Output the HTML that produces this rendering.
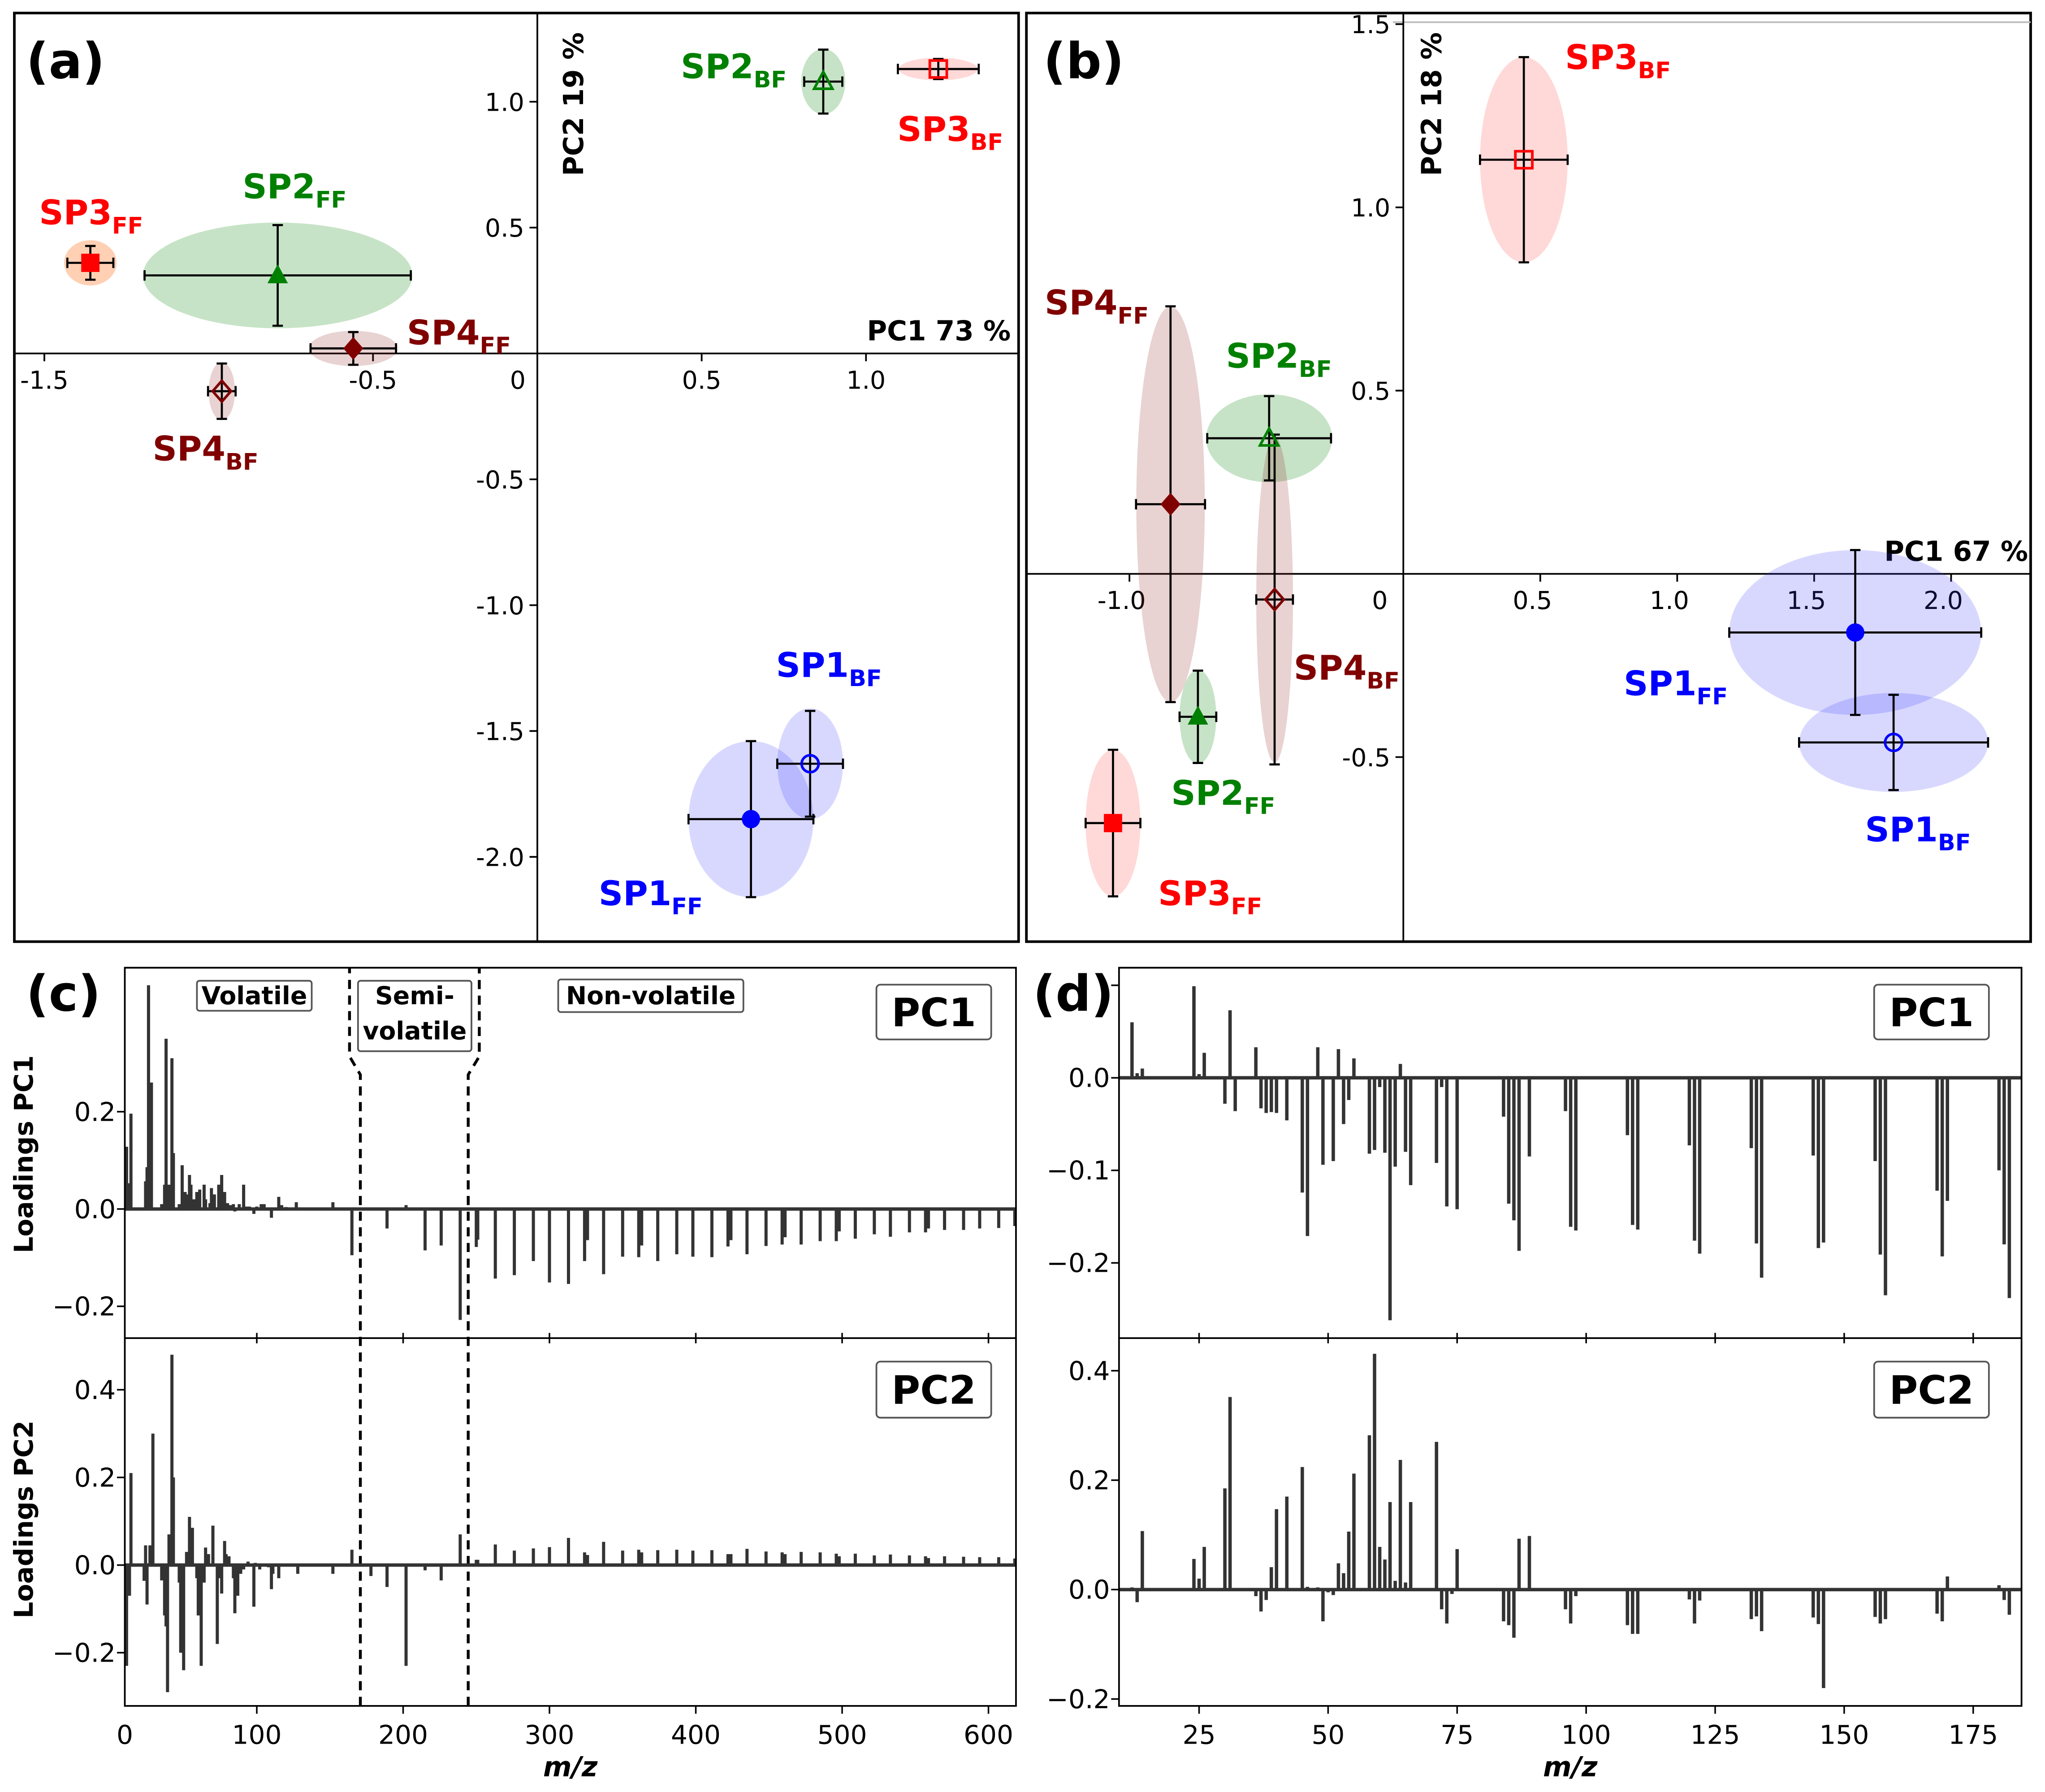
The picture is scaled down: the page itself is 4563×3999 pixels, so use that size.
<!DOCTYPE html>
<html><head><meta charset="utf-8"><style>
html,body{margin:0;padding:0;background:#fff;}
svg{display:block;}
text{font-family:"DejaVu Sans","Liberation Sans",sans-serif;}
</style></head><body>
<svg id="fig" xmlns="http://www.w3.org/2000/svg" width="4563" height="3999" viewBox="0 0 1568 1374" preserveAspectRatio="none"></svg>
<script>
// ---------- Data: panel (a) scores ----------
const aNames = ['SP2_BF','SP3_BF','SP3_FF','SP2_FF','SP4_FF','SP4_BF','SP1_BF','SP1_FF'];
const aX = [0.87, 1.22, -1.36, -0.79, -0.56, -0.96, 0.83, 0.65];
const aY = [1.08, 1.13, 0.36, 0.31, 0.02, -0.15, -1.63, -1.85];
const aXerr = [0.058, 0.123, 0.07, 0.405, 0.13, 0.042, 0.10, 0.19];
const aYerr = [0.127, 0.04, 0.067, 0.2, 0.065, 0.11, 0.21, 0.31];
const aEllX = [0.067, 0.12, 0.08, 0.41, 0.135, 0.04, 0.10, 0.19];
const aEllY = [0.13, 0.045, 0.09, 0.21, 0.07, 0.115, 0.22, 0.31];
const aXTicks = [-1.5, -0.5, 0.5, 1.0];
const aYTicks = [1.0, 0.5, -0.5, -1.0, -1.5, -2.0];
// ---------- Data: panel (b) scores ----------
const bNames = ['SP3_BF','SP4_FF','SP2_BF','SP4_BF','SP2_FF','SP3_FF','SP1_FF','SP1_BF'];
const bX = [0.44, -0.85, -0.49, -0.47, -0.75, -1.06, 1.65, 1.79];
const bY = [1.13, 0.19, 0.37, -0.07, -0.39, -0.68, -0.16, -0.46];
const bXerr = [0.16, 0.126, 0.226, 0.067, 0.067, 0.1, 0.46, 0.345];
const bYerr = [0.28, 0.54, 0.115, 0.45, 0.126, 0.2, 0.225, 0.13];
const bEllX = [0.16, 0.125, 0.23, 0.067, 0.067, 0.1, 0.46, 0.345];
const bEllY = [0.28, 0.54, 0.12, 0.445, 0.128, 0.2, 0.225, 0.135];
const bXTicks = [-1.0, 0.5, 1.0, 1.5, 2.0];
const bYTicks = [1.5, 1.0, 0.5, -0.5];
// ---------- Data: panel (c) loadings ----------
const mzC = [11,13,14,23,24,25,26,27,28,29,35,37,38,39,40,42,43,47,48,49,50,51,52,54,55,56,57,59,60,61,62,64,65,67,68,69,70,71,72,73,74,76,78,79,80,81,82,84,85,87,88,89,91,93,94,95,98,99,100,102,103,105,108,110,111,115,117,120,122,127,128,152,165,178,189,202,215,226,239,250,251,263,276,289,300,313,324,326,337,350,361,363,374,387,398,411,422,424,435,448,459,461,472,485,496,498,509,522,533,546,557,559,570,583,594,607,618];
const pc1C = [0.128,0.053,0.196,0,0.057,0.086,0.46,0,0.26,0,0.01,0.05,0.35,0,0.05,0.31,0.115,0.01,0,0.09,0,0.035,0.03,0.07,0.05,0,0.02,0.035,0,0.04,0,0.05,0.02,0,0.012,0.043,0,0.03,0,0,0.05,0.07,0.035,0,0.012,0,0.008,0.01,-0.005,0,0.01,0,0.05,0.005,0,0.005,-0.01,0,0.005,0,0.01,0.01,0,-0.018,0,0.025,0.008,0.004,0.002,0.014,0,0.014,-0.095,0,-0.04,0.008,-0.085,-0.075,-0.228,-0.078,-0.063,-0.143,-0.136,-0.107,-0.151,-0.154,-0.107,-0.064,-0.134,-0.098,-0.099,-0.075,-0.107,-0.093,-0.098,-0.099,-0.077,-0.064,-0.093,-0.076,-0.073,-0.058,-0.073,-0.066,-0.066,-0.046,-0.061,-0.052,-0.057,-0.048,-0.048,-0.04,-0.043,-0.043,-0.04,-0.039,-0.035];
const pc2C = [-0.23,-0.07,0.21,-0.036,0.045,-0.09,0,0.045,0,0.30,-0.035,-0.115,-0.14,-0.29,0.07,0.48,0.2,-0.04,-0.2,0,-0.24,0,0.03,0.11,0,0.085,0,-0.03,-0.115,0,-0.23,-0.04,0.04,0.025,0,0,0.09,0,0,-0.18,-0.03,-0.065,0.055,0.025,0,0.02,0,-0.03,-0.11,-0.07,0,-0.02,-0.01,0,0.008,0,-0.095,0.005,0,-0.01,0,0,-0.005,-0.055,-0.02,-0.03,0,0,0,0,-0.02,-0.02,0.035,-0.025,-0.05,-0.23,-0.012,-0.035,0.07,0.012,0.012,0.047,0.033,0.038,0.041,0.062,0.029,0.023,0.053,0.033,0.035,0.029,0.034,0.035,0.033,0.034,0.025,0.025,0.037,0.031,0.029,0.025,0.03,0.029,0.026,0.02,0.026,0.022,0.024,0.022,0.02,0.016,0.02,0.019,0.018,0.018,0.015];
const cXTicks = [100,200,300,400,500,600];
const cY1Ticks = [0.2,0.0,-0.2];
const cY2Ticks = [0.4,0.2,0.0,-0.2];
// ---------- Data: panel (d) loadings ----------
const mzD = [12,13,14,24,25,26,30,31,32,36,37,38,39,40,42,45,46,48,49,50,51,52,53,54,55,58,59,60,61,62,63,64,65,66,71,72,73,74,75,84,85,86,87,89,96,97,98,108,109,110,120,121,122,132,133,134,144,145,146,156,157,158,168,169,170,180,181,182];
const pc1D = [0.06,0.005,0.01,0.099,0.004,0.027,-0.028,0.073,-0.036,0.033,-0.033,-0.038,-0.037,-0.038,-0.046,-0.124,-0.171,0.033,-0.094,0,-0.09,0.031,-0.05,-0.024,0.021,-0.082,-0.078,-0.01,-0.081,-0.262,-0.096,0.015,-0.08,-0.116,-0.092,-0.01,-0.139,0,-0.142,-0.042,-0.136,-0.154,-0.187,-0.085,-0.036,-0.161,-0.165,-0.062,-0.159,-0.164,-0.073,-0.176,-0.19,-0.076,-0.179,-0.216,-0.084,-0.184,-0.178,-0.09,-0.191,-0.235,-0.122,-0.193,-0.133,-0.10,-0.18,-0.238];
const pc2D = [0.004,-0.023,0.107,0.056,0.02,0.078,0.185,0.352,0,-0.012,-0.04,-0.019,0.041,0.147,0.170,0.224,0.005,0.004,-0.058,-0.005,-0.01,0.048,0.03,0.106,0.212,0.282,0.431,0.078,0.055,0.16,0.016,0.237,0.013,0.16,0.27,-0.036,-0.062,-0.008,0.074,-0.058,-0.065,-0.088,0.093,0.098,-0.036,-0.062,-0.012,-0.065,-0.081,-0.081,-0.018,-0.062,-0.02,-0.054,-0.049,-0.076,-0.051,-0.063,-0.18,-0.05,-0.062,-0.054,-0.044,-0.058,0.024,0.008,-0.019,-0.046];
const dXTicks = [25,50,75,100,125,150,175];
const dY1Ticks = [0.0,-0.1,-0.2];
const dY2Ticks = [0.4,0.2,0.0,-0.2];

const NS='http://www.w3.org/2000/svg';
const svg=document.getElementById('fig');
function mk(tag,a,p){const e=document.createElementNS(NS,tag);for(const k in a)e.setAttribute(k,a[k]);(p||svg).appendChild(e);return e;}
function fmt(v){return (v<0?'\u2212':'')+Math.abs(v).toFixed(1);}
function fmtA(v){return (v<0?'-':'')+Math.abs(v).toFixed(1);}

const colors={SP1:'#0000ff',SP2:'#008000',SP3:'#ff0000',SP4:'#800000'};
const ellFill={SP1:'rgba(60,60,255,0.2)',SP2:'rgba(0,128,0,0.22)',SP3:'rgba(255,40,40,0.18)',SP4:'rgba(140,30,30,0.2)'};

let el;
el=mk('rect',{x:11,y:10,width:770,height:712,fill:'none',stroke:'#000','stroke-width':2});


el=mk('rect',{x:787,y:10,width:770,height:712,fill:'none',stroke:'#000','stroke-width':2});


const letters=[['(a)',20,60],['(b)',800,60],['(c)',20,775],['(d)',792,775]];
letters.forEach(l=>{
  el=mk('text',{x:l[1],y:l[2],'font-size':38,'font-weight':'bold',fill:'#000'});
  el.textContent=l[0];
  
  
});

function drawLabel(name,x,y,grp){
  const base=name.split('_')[0], sub=name.split('_')[1];
  const t=mk('text',{x:x,y:y,'font-size':26,'font-weight':'bold',fill:colors[base]},grp);
  t.textContent=base;
  const ts=mk('tspan',{'font-size':17.5,dy:7},t);
  ts.textContent=sub;
  
  
}
function drawMarker(name,px,py,grp){
  const base=name.split('_')[0], open=name.endsWith('BF'), c=colors[base];
  const fill=open?'none':c;
  const num=base[2];
  let m;
  if(num==='1') m=mk('circle',{cx:px,cy:py,r:6.5,fill:fill,stroke:c,'stroke-width':open?2:1},grp);
  else if(num==='2') m=mk('polygon',{points:`${px},${py-7.5} ${px+7},${py+5.5} ${px-7},${py+5.5}`,fill:fill,stroke:c,'stroke-width':open?2:1},grp);
  else if(num==='3') m=mk('rect',{x:px-6.5,y:py-6.5,width:13,height:13,fill:fill,stroke:c,'stroke-width':open?2:1},grp);
  else m=mk('polygon',{points:`${px},${py-8} ${px+7},${py} ${px},${py+8} ${px-7},${py}`,fill:fill,stroke:c,'stroke-width':open?2:1},grp);
  
  
}
function scatter(names,X,Y,XE,YE,EX,EY,sx,sy,kx,ky,labelPos,prefix,special){
  const g=mk('g',{});
  
  
  names.forEach((n,i)=>{
    const b=n.split('_')[0];
    const f=(special&&special[n])?special[n]:ellFill[b];
    const e=mk('ellipse',{cx:sx(X[i]),cy:sy(Y[i]),rx:EX[i]*kx,ry:EY[i]*ky,fill:f},g);
    
    
  });
  names.forEach((n,i)=>{
    const px=sx(X[i]),py=sy(Y[i]),x0=sx(X[i]-XE[i]),x1=sx(X[i]+XE[i]),y0=sy(Y[i]+YE[i]),y1=sy(Y[i]-YE[i]);
    const d=`M${x0},${py}H${x1}M${px},${y0}V${y1}M${x0},${py-4}V${py+4}M${x1},${py-4}V${py+4}M${px-4},${y0}H${px+4}M${px-4},${y1}H${px+4}`;
    const p=mk('path',{d:d,stroke:'#000','stroke-width':1.6,fill:'none'},g);
    
    
  });
  names.forEach((n,i)=>drawMarker(n,sx(X[i]),sy(Y[i]),g));
  names.forEach((n,i)=>drawLabel(n,labelPos[i][0],labelPos[i][1],g));
}

// ---------- Panel (a) ----------
const axs=v=>412+252*v, ays=v=>271-193*v;
el=mk('path',{d:'M11,271H781M412,10V722',stroke:'#000','stroke-width':1.3,fill:'none'});


aXTicks.forEach(t=>{
  el=mk('line',{x1:axs(t),x2:axs(t),y1:271,y2:277,stroke:'#000','stroke-width':1.3});
  
  
  el=mk('text',{x:axs(t),y:298,'font-size':19,'text-anchor':'middle'});
  el.textContent=fmtA(t);
  
  
});
el=mk('text',{x:397,y:298,'font-size':19,'text-anchor':'middle'});el.textContent='0';


aYTicks.forEach(t=>{
  el=mk('line',{x1:406,x2:412,y1:ays(t),y2:ays(t),stroke:'#000','stroke-width':1.3});
  
  
  el=mk('text',{x:402,y:ays(t)+7,'font-size':19,'text-anchor':'end'});
  el.textContent=fmtA(t);
  
  
});
el=mk('text',{x:0,y:0,'font-size':21,'font-weight':'bold',transform:'translate(447,135) rotate(-90)'});el.textContent='PC2 19 %';


el=mk('text',{x:775,y:261,'font-size':21,'font-weight':'bold','text-anchor':'end'});el.textContent='PC1 73 %';


scatter(aNames,aX,aY,aXerr,aYerr,aEllX,aEllY,axs,ays,252,193,
  [[522,60],[688,108],[30,172],[186,152],[312,264],[117,353],[595,519],[459,694]],'a',{SP3_FF:'rgba(255,120,40,0.35)'});

// ---------- Panel (b) ----------
const bxs=v=>1076+210*v, bys=v=>440-281*v;
el=mk('line',{x1:1068,x2:1557,y1:17,y2:17,stroke:'#bbb','stroke-width':1.3});


el=mk('path',{d:'M787,440H1557M1076,10V722',stroke:'#000','stroke-width':1.3,fill:'none'});


bXTicks.forEach(t=>{
  el=mk('line',{x1:bxs(t),x2:bxs(t),y1:440,y2:446,stroke:'#000','stroke-width':1.3});
  
  
  el=mk('text',{x:bxs(t)-6,y:467,'font-size':19,'text-anchor':'middle'});
  el.textContent=fmtA(t);
  
  
});
el=mk('text',{x:1058,y:467,'font-size':19,'text-anchor':'middle'});el.textContent='0';


bYTicks.forEach(t=>{
  el=mk('line',{x1:1070,x2:1076,y1:bys(t),y2:bys(t),stroke:'#000','stroke-width':1.3});
  
  
  el=mk('text',{x:1066,y:bys(t)+7,'font-size':19,'text-anchor':'end'});
  el.textContent=fmtA(t);
  
  
});
el=mk('text',{x:0,y:0,'font-size':21,'font-weight':'bold',transform:'translate(1105,135) rotate(-90)'});el.textContent='PC2 18 %';


el=mk('text',{x:1555,y:430,'font-size':21,'font-weight':'bold','text-anchor':'end'});el.textContent='PC1 67 %';


scatter(bNames,bX,bY,bXerr,bYerr,bEllX,bEllY,bxs,bys,210,281,
  [[1200,53],[801,241],[940,282],[992,521],[898,617],[888,694],[1245,533],[1430,645]],'b',null);

// ---------- loadings helper ----------
function bars(mz,vals,sx,sy,w,name){
  const g=mk('g',{});
  
  
  mz.forEach((m,i)=>{
    const v=vals[i]; if(v===0) return;
    const y0=sy(0),y1=sy(v);
    const r=mk('rect',{x:sx(m)-w/2,y:Math.min(y0,y1),width:w,height:Math.abs(y1-y0),fill:'#333'},g);
    
    
  });
}
function boxLabel(txt,x,y,w,h,fs){
  const r=mk('rect',{x:x,y:y,width:w,height:h,rx:3,fill:'#fff',stroke:'#555','stroke-width':1.3});
  
  
  const t=mk('text',{x:x+w/2,y:y+h/2+fs*0.36,'font-size':fs,'font-weight':'bold','text-anchor':'middle'});
  t.textContent=txt;
  
  
}
function loadPanel(L,R,top,mid,bot,sx,sy1,sy2,xt,y1t,y2t,mz,p1,p2,w,pre,lblX){
  bars(mz,p1,sx,sy1,w,pre+'-pc1-bars');
  bars(mz,p2,sx,sy2,w,pre+'-pc2-bars');
  el=mk('path',{d:`M${L},${sy1(0)}H${R}M${L},${sy2(0)}H${R}`,stroke:'#333','stroke-width':2.6});
  
  
  el=mk('path',{d:`M${L},${top}H${R}V${bot}H${L}ZM${L},${mid}H${R}`,stroke:'#000','stroke-width':1.3,fill:'none'});
  
  
  xt.forEach(t=>{
    el=mk('path',{d:`M${sx(t)},${bot}v6M${sx(t)},${mid-4}v8`,stroke:'#000','stroke-width':1.2});
    
    
    el=mk('text',{x:sx(t),y:bot+29,'font-size':20,'text-anchor':'middle'});
    el.textContent=t;
    
    
  });
  y1t.forEach(t=>{
    el=mk('line',{x1:L-6,x2:L,y1:sy1(t),y2:sy1(t),stroke:'#000','stroke-width':1.2});
    
    
    el=mk('text',{x:L-7,y:sy1(t)+7,'font-size':20,'text-anchor':'end'});
    el.textContent=fmt(t);
    
    
  });
  y2t.forEach(t=>{
    el=mk('line',{x1:L-6,x2:L,y1:sy2(t),y2:sy2(t),stroke:'#000','stroke-width':1.2});
    
    
    el=mk('text',{x:L-7,y:sy2(t)+7,'font-size':20,'text-anchor':'end'});
    el.textContent=fmt(t);
    
    
  });
  el=mk('text',{x:(L+R)/2,y:bot+54,'font-size':21,'font-weight':'bold','font-style':'italic','text-anchor':'middle'});
  el.textContent='m/z';
  
  
  boxLabel('PC1',lblX,755,88,42,30);
  boxLabel('PC2',lblX,1044,88,43,30);
}

// ---------- Panel (c) ----------
const cxs=m=>84.7+1.122*m, cy1=v=>927-373*v, cy2=v=>1200-336*v;
el=mk('path',{d:'M276.3,1308V824L268,810V742M359,1308V824L367.5,810V742',stroke:'#000','stroke-width':2.2,'stroke-dasharray':'7,5',fill:'none'});


loadPanel(95.7,779,742,1026,1308,cxs,cy1,cy2,cXTicks,cY1Ticks,cY2Ticks,mzC,pc1C,pc2C,2.4,'c',672);
el=mk('text',{x:95.7,y:1337,'font-size':20,'text-anchor':'middle'});el.textContent='0';


el=mk('rect',{x:151,y:752,width:88,height:23,rx:2,fill:'#fff',stroke:'#555','stroke-width':1.3});


el=mk('text',{x:195,y:770,'font-size':19,'font-weight':'bold','text-anchor':'middle'});el.textContent='Volatile';


el=mk('rect',{x:274.5,y:752,width:87,height:54,rx:2,fill:'#fff',stroke:'#555','stroke-width':1.3});


el=mk('text',{x:318,y:770,'font-size':19,'font-weight':'bold','text-anchor':'middle'});el.textContent='Semi-';


el=mk('text',{x:318,y:797,'font-size':19,'font-weight':'bold','text-anchor':'middle'});el.textContent='volatile';


el=mk('rect',{x:428,y:751,width:142,height:25,rx:2,fill:'#fff',stroke:'#555','stroke-width':1.3});


el=mk('text',{x:499,y:770,'font-size':19,'font-weight':'bold','text-anchor':'middle'});el.textContent='Non-volatile';


el=mk('text',{x:0,y:0,'font-size':20,'font-weight':'bold','text-anchor':'middle',transform:'translate(25,885) rotate(-90)'});el.textContent='Loadings PC1';


el=mk('text',{x:0,y:0,'font-size':20,'font-weight':'bold','text-anchor':'middle',transform:'translate(25,1165) rotate(-90)'});el.textContent='Loadings PC2';



// ---------- Panel (d) ----------
const dxs=m=>919.4+(m-25)*3.957, dy1=v=>826.4-709.5*v, dy2=v=>1218.8-419.5*v;
loadPanel(858,1550,742,1026,1308,dxs,dy1,dy2,dXTicks,dY1Ticks,dY2Ticks,mzD,pc1D,pc2D,2.6,'d',1437);
el=mk('line',{x1:852,x2:858,y1:dy1(0.1),y2:dy1(0.1),stroke:'#000','stroke-width':1.2});


</script>
</body></html>
